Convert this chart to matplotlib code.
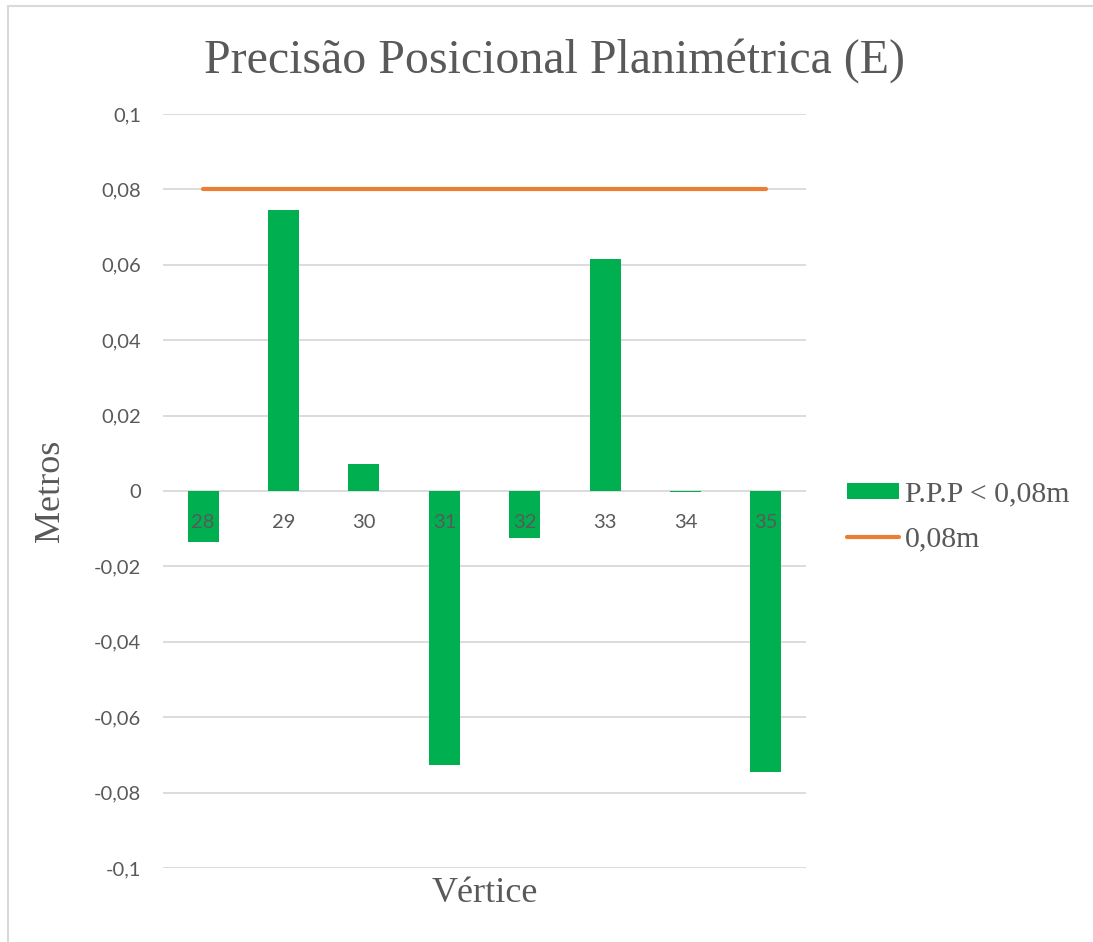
import matplotlib
matplotlib.use("Agg")
import matplotlib.pyplot as plt
import matplotlib.transforms as mtransforms
from matplotlib.patches import Rectangle

# data
vertices = ["28", "29", "30", "31", "32", "33", "34", "35"]
ppp_values = [-0.0135, 0.0745, 0.0072, -0.0727, -0.0125, 0.0615, -0.0003, -0.0745]
limit_values = [0.08] * 8
y_ticks = [0.1, 0.08, 0.06, 0.04, 0.02, 0, -0.02, -0.04, -0.06, -0.08, -0.1]
y_labels = ["0,1", "0,08", "0,06", "0,04", "0,02", "0", "-0,02", "-0,04", "-0,06", "-0,08", "-0,1"]

green = "#00B050"
orange = "#ED7D31"
txt = "#595959"
grid = "#D9D9D9"
serif = "Liberation Serif"
sans = "Lato"

W, H = 1093, 942
fig = plt.figure(figsize=(W / 100, H / 100), dpi=100)
ax = fig.add_axes([163 / W, 1 - 868 / H, (806 - 163) / W, (868 - 114) / H])

x = list(range(len(vertices)))
bars = ax.bar(x, ppp_values, width=0.385, color=green, zorder=2, label="P.P.P < 0,08m")
line, = ax.plot(x, limit_values, color=orange, lw=3.0, solid_capstyle="round", zorder=3, label="0,08m")

ax.set_xlim(-0.5, len(vertices) - 0.5)
ax.set_ylim(-0.1, 0.1)
ax.set_yticks(y_ticks)
ax.set_yticklabels(y_labels, fontfamily=sans, fontsize=14.5, color=txt)
ax.tick_params(axis="y", length=0, pad=16)
ax.set_xticks([])
ax.set_axisbelow(True)
ax.grid(axis="y", color=grid, lw=1.3)
for s in ax.spines.values():
    s.set_visible(False)

# category labels sit next to the zero line, over the bars
off = mtransforms.offset_copy(ax.transData, fig=fig, x=0, y=-31, units="dots")
for i, v in zip(x, vertices):
    ax.text(i, 0, v, transform=off, ha="center", va="center",
            fontfamily=sans, fontsize=14.5, color=txt, zorder=5)

fig.text(555 / W, 1 - 61 / H, "Precisão Posicional Planimétrica (E)",
         ha="center", va="center", fontfamily=serif, fontsize=34.5, color=txt)
fig.text(50 / W, 1 - 491 / H, "Metros", rotation=90, ha="center", va="center",
         fontfamily=serif, fontsize=26, color=txt)
fig.text(485 / W, 1 - 893 / H, "Vértice", ha="center", va="center",
         fontfamily=serif, fontsize=26, color=txt)

fig.legend([bars, line], ["P.P.P < 0,08m", "0,08m"],
           loc="center left", bbox_to_anchor=(847 / W, 1 - 517 / H),
           frameon=False, borderpad=0, borderaxespad=0,
           handlelength=1.75, handleheight=0.45, handletextpad=0.2, labelspacing=0.62,
           prop={"family": serif, "size": 21.5}, labelcolor=txt)

# chart border
fig.add_artist(Rectangle((8 / W, -0.1), 2, 1.1 - 6 / H, transform=fig.transFigure,
                         fill=False, edgecolor=grid, lw=1.5))

fig.savefig("out.png", dpi=100)
